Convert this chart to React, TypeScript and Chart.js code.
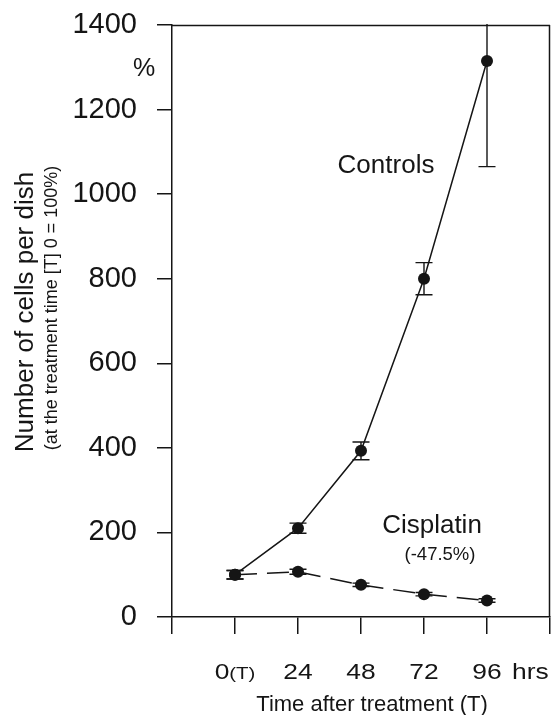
import { useEffect, useRef } from 'react';
import { Chart, registerables } from 'chart.js';

Chart.register(...registerables);

const hours = [0, 24, 48, 72, 96];
const controls = [100, 210, 393, 800, 1315];
const controlsErr = [10, 12, 21, 38, 250];
const cisplatin = [100, 107, 76, 54, 39];
const cisplatinErr = [10, 6, 4, 4, 4];
const xTickLabels = ['0', '24', '48', '72', '96'];

const FONT = '"Liberation Sans", Arial, Helvetica, sans-serif';
const INK = '#151515';

export default function App() {
  const ref = useRef<HTMLCanvasElement>(null);

  useEffect(() => {
    const canvas = ref.current;
    if (!canvas) return;

    const errs = [controlsErr, cisplatinErr];

    const errorBars = {
      id: 'errorBars',
      beforeDatasetsDraw(chart: any) {
        const { ctx, chartArea, scales } = chart;
        const ys = scales.y;
        ctx.save();
        ctx.beginPath();
        ctx.rect(chartArea.left, chartArea.top - 1, chartArea.right - chartArea.left, chartArea.bottom - chartArea.top + 1);
        ctx.clip();
        ctx.strokeStyle = INK;
        ctx.lineWidth = 1.4;
        chart.data.datasets.forEach((ds: any, di: number) => {
          const meta = chart.getDatasetMeta(di);
          ds.data.forEach((p: any, i: number) => {
            const e = errs[di][i];
            const x = meta.data[i].x;
            const yt = ys.getPixelForValue(p.y + e);
            const yb = ys.getPixelForValue(p.y - e);
            const half = 8.5;
            ctx.beginPath();
            ctx.moveTo(x, yt);
            ctx.lineTo(x, yb);
            ctx.moveTo(x - half, yt);
            ctx.lineTo(x + half, yt);
            ctx.moveTo(x - half, yb);
            ctx.lineTo(x + half, yb);
            ctx.stroke();
          });
        });
        ctx.restore();
      },
    };

    const stretchedText = (ctx: any, text: string, x: number, y: number, size: number, sx: number) => {
      ctx.save();
      ctx.font = `${size}px ${FONT}`;
      ctx.translate(x, y);
      ctx.scale(sx, 1);
      ctx.textAlign = 'left';
      ctx.textBaseline = 'alphabetic';
      ctx.fillText(text, 0, 0);
      ctx.restore();
    };

    const decorations = {
      id: 'decorations',
      afterDraw(chart: any) {
        const { ctx, chartArea, scales } = chart;
        const xs = scales.x;
        ctx.save();
        // frame: top and right
        ctx.strokeStyle = INK;
        ctx.lineWidth = 1.5;
        ctx.beginPath();
        ctx.moveTo(chartArea.left, Math.round(chartArea.top) + 0.5);
        ctx.lineTo(chartArea.right, Math.round(chartArea.top) + 0.5);
        ctx.moveTo(Math.round(chartArea.right) - 0.5, chartArea.top);
        ctx.lineTo(Math.round(chartArea.right) - 0.5, chartArea.bottom);
        ctx.stroke();

        ctx.fillStyle = INK;
        const sx = 1.2;
        const base = chartArea.bottom + 62;
        // x tick labels
        hours.forEach((h, i) => {
          const cx = xs.getPixelForValue(h);
          const label = xTickLabels[i];
          ctx.font = `22px ${FONT}`;
          const w1 = ctx.measureText(label).width * sx;
          if (h === 0) {
            ctx.font = `17px ${FONT}`;
            const w2 = ctx.measureText('(T)').width * sx;
            const start = cx - (w1 + w2) / 2;
            stretchedText(ctx, label, start, base, 22, sx);
            stretchedText(ctx, '(T)', start + w1, base, 17, sx);
          } else {
            stretchedText(ctx, label, cx - w1 / 2, base, 22, sx);
          }
        });
        // hrs
        stretchedText(ctx, 'hrs', xs.getPixelForValue(96) + 25, base, 22, sx);

        // x title
        ctx.font = `22px ${FONT}`;
        ctx.textAlign = 'center';
        ctx.textBaseline = 'alphabetic';
        ctx.fillText('Time after treatment (T)', 372, chartArea.bottom + 94);

        // y titles
        ctx.save();
        ctx.translate(33, 312);
        ctx.rotate(-Math.PI / 2);
        ctx.font = `26px ${FONT}`;
        ctx.textAlign = 'center';
        ctx.fillText('Number of cells per dish', 0, 0);
        ctx.restore();

        ctx.save();
        ctx.translate(57, 308);
        ctx.rotate(-Math.PI / 2);
        ctx.font = `18px ${FONT}`;
        ctx.textAlign = 'center';
        ctx.fillText('(at the treatment time [T] 0 = 100%)', 0, 0);
        ctx.restore();

        // percent sign
        ctx.font = `25px ${FONT}`;
        ctx.textAlign = 'center';
        ctx.fillText('%', 144, 76);

        // series labels
        ctx.font = `26px ${FONT}`;
        ctx.fillText('Controls', 386, 173);
        ctx.fillText('Cisplatin', 432, 533);
        ctx.font = `18.5px ${FONT}`;
        ctx.fillText('(-47.5%)', 440, 560);
        ctx.restore();
      },
    };

    const chart = new Chart(canvas, {
      type: 'line',
      data: {
        datasets: [
          {
            label: 'Controls',
            data: hours.map((h, i) => ({ x: h, y: controls[i] })),
            borderColor: INK,
            borderWidth: 1.5,
            backgroundColor: INK,
            pointRadius: 6,
            pointBorderWidth: 0,
            pointBackgroundColor: INK,
            tension: 0,
          },
          {
            label: 'Cisplatin',
            data: hours.map((h, i) => ({ x: h, y: cisplatin[i] })),
            borderColor: INK,
            borderWidth: 1.5,
            borderDash: [22, 10],
            backgroundColor: INK,
            pointRadius: 6,
            pointBorderWidth: 0,
            pointBackgroundColor: INK,
            tension: 0,
          },
        ],
      },
      options: {
        responsive: false,
        animation: false,
        layout: { padding: { top: 25, right: 5, left: 0, bottom: 0 } },
        plugins: {
          legend: { display: false },
          tooltip: { enabled: false },
        },
        scales: {
          x: {
            type: 'linear',
            min: -24,
            max: 120,
            afterFit: (s: any) => {
              s.height = 98;
              s.paddingLeft = 0;
              s.paddingRight = 0;
            },
            ticks: { stepSize: 24, display: false },
            grid: {
              drawOnChartArea: false,
              drawTicks: true,
              tickLength: 17,
              color: INK,
              lineWidth: 1.5,
            },
            border: { display: true, color: INK, width: 1.5 },
          },
          y: {
            min: 0,
            max: 1400,
            afterFit: (s: any) => {
              s.width = 172;
              s.paddingTop = 0;
              s.paddingBottom = 0;
            },
            ticks: {
              stepSize: 200,
              padding: 20,
              color: INK,
              font: { family: FONT, size: 29 },
              callback: (v: any) => String(v),
            },
            grid: {
              drawOnChartArea: false,
              drawTicks: true,
              tickLength: 15,
              color: INK,
              lineWidth: 1.5,
            },
            border: { display: true, color: INK, width: 1.5 },
          },
        },
      },
      plugins: [errorBars, decorations],
    });

    return () => chart.destroy();
  }, []);

  return (
    <div style={{ position: 'absolute', left: 0, top: 0, width: 556, height: 715, background: '#fff' }}>
      <canvas ref={ref} width={556} height={715} style={{ display: 'block' }} />
    </div>
  );
}
